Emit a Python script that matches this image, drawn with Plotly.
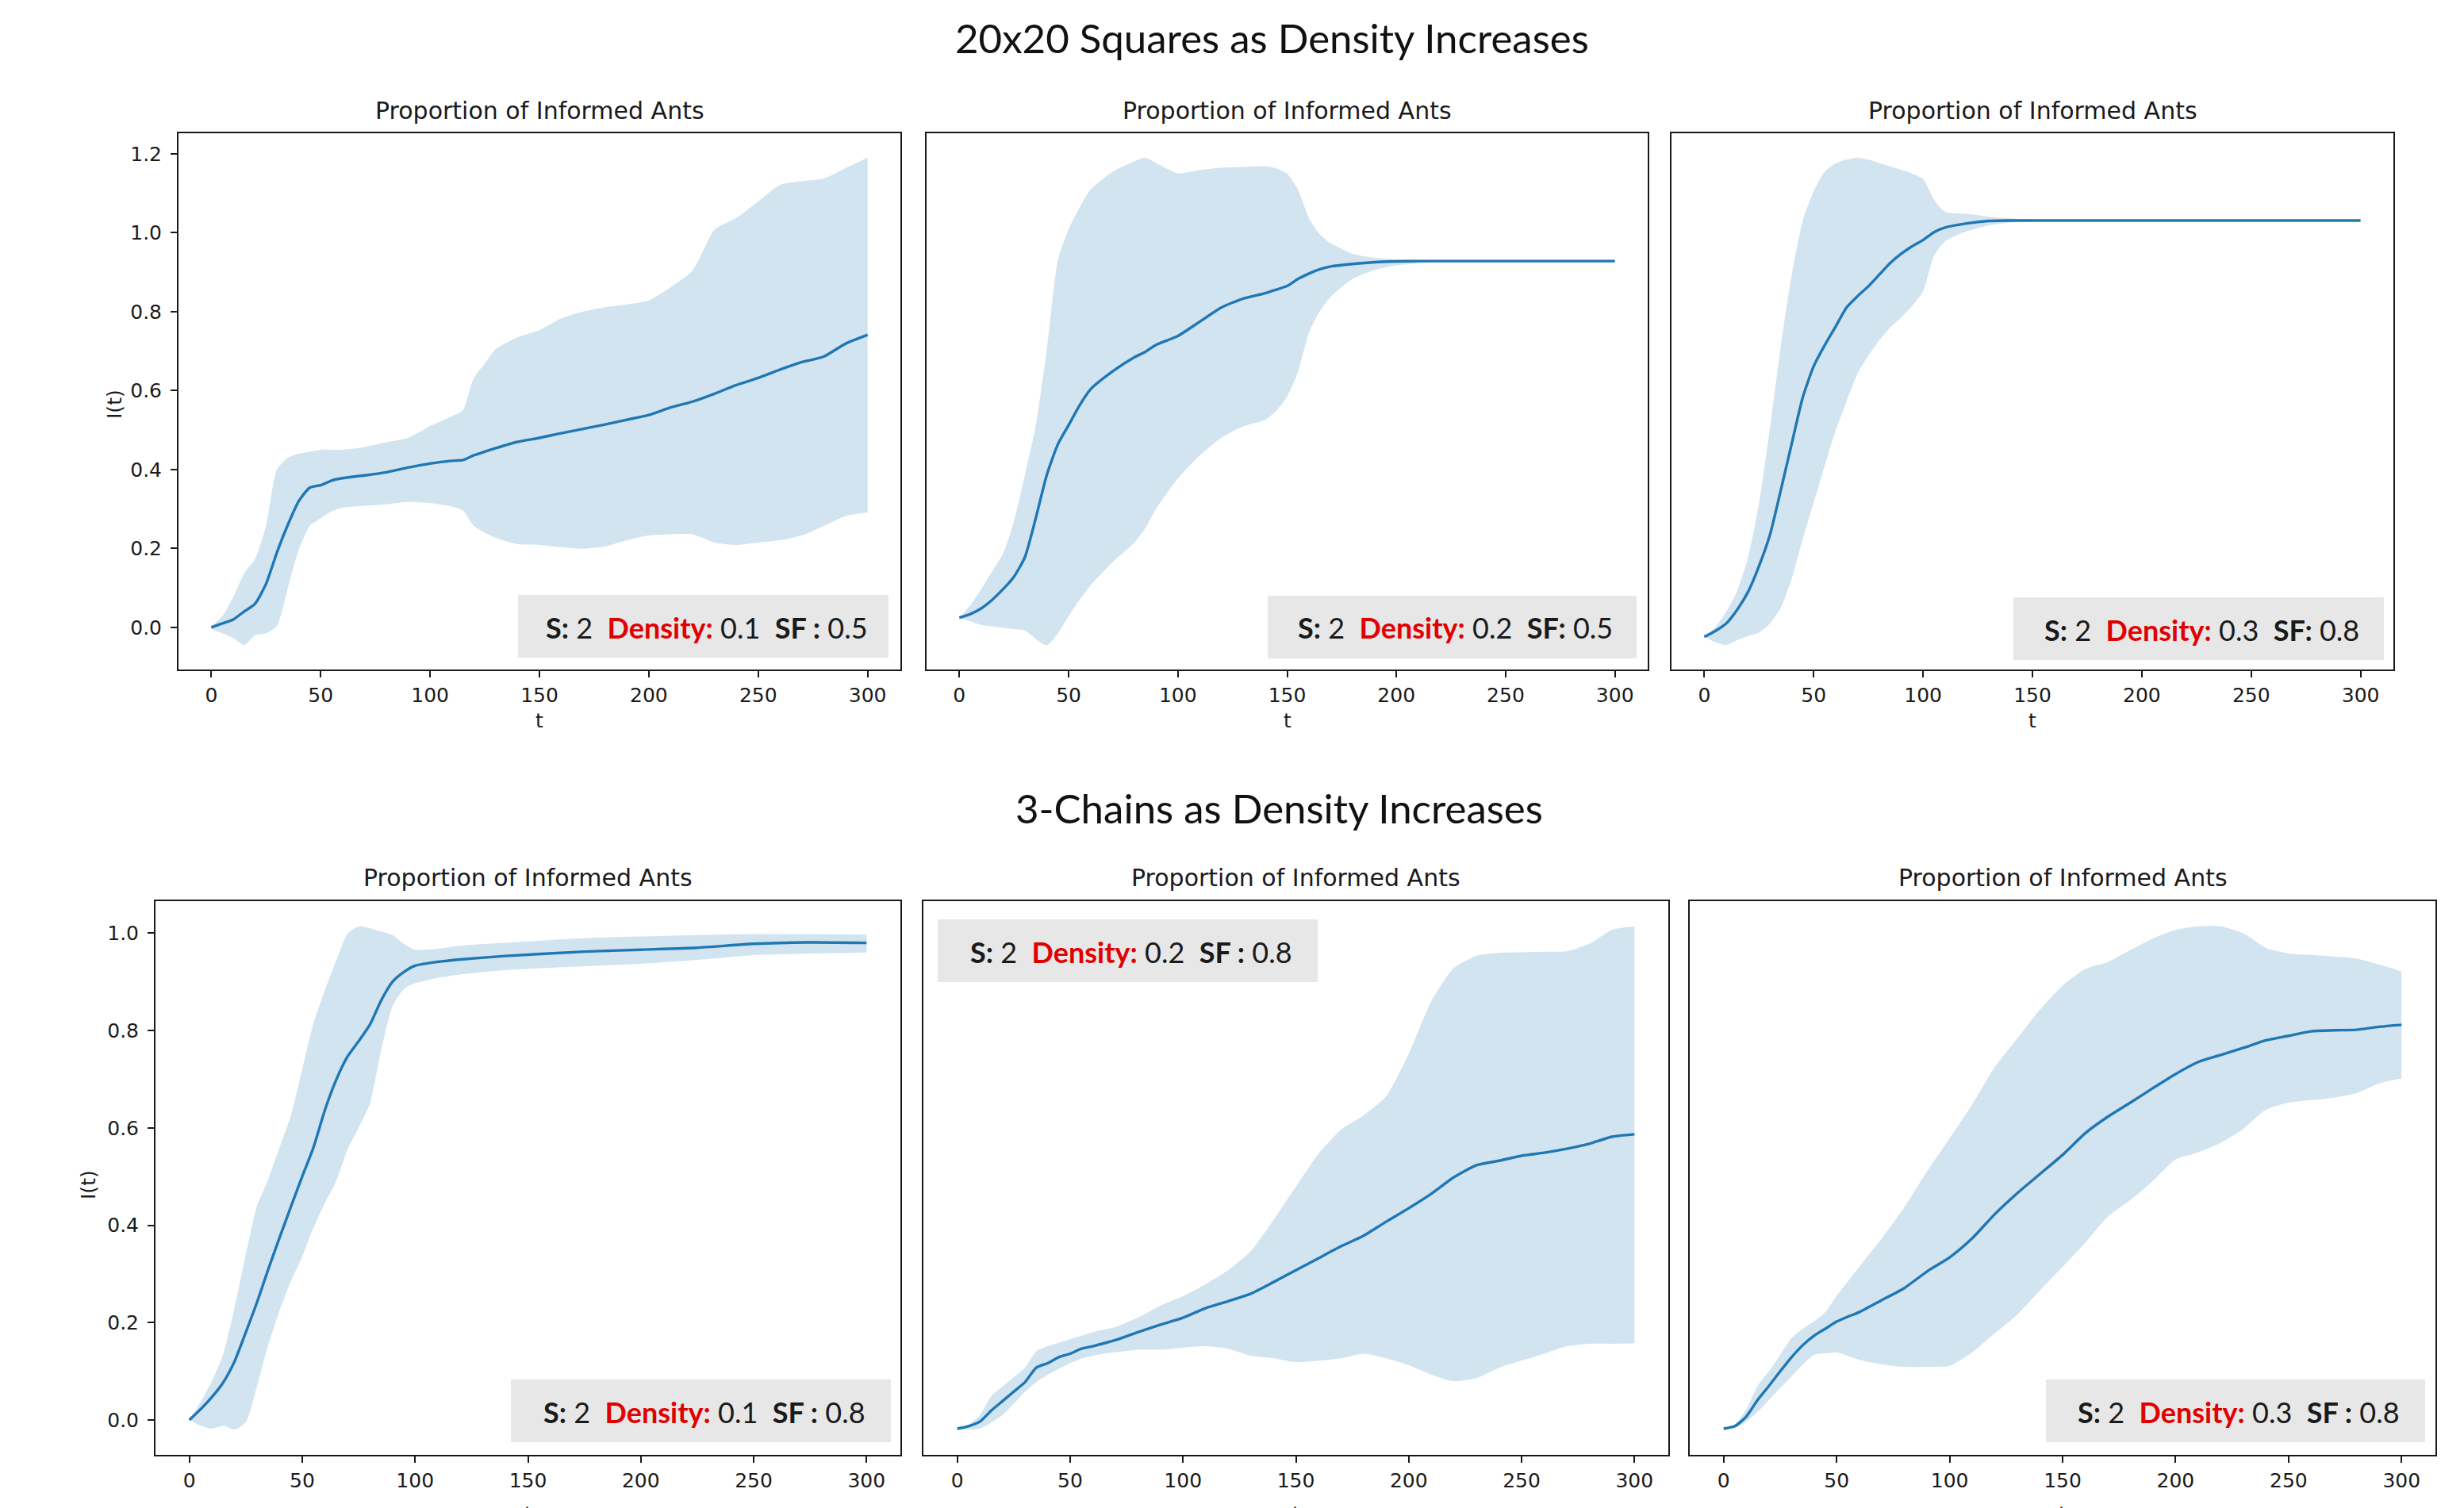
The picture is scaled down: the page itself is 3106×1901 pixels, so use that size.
import plotly.graph_objects as go

W, H = 3106, 1901

# ---------------- data ----------------
# Panel 1: 20x20 squares, density 0.1, SF 0.5
T1 = [0, 5, 10, 15, 20, 25, 30, 35, 40, 45, 50, 55, 60, 70, 80, 90, 100, 110, 115, 120, 125, 130,
      140, 150, 160, 170, 180, 190, 200, 210, 220, 230, 240, 250, 260, 270, 280, 290, 300]
MEAN1 = [0, .01, .02, .04, .06, .11, .19, .26, .32, .354, .36, .372, .378, .385, .393, .405, .415, .422,
         .424, .436, .445, .454, .47, .48, .492, .503, .514, .526, .538, .557, .572, .592, .614, .632,
         .653, .672, .686, .719, .741]
UP1 = [.003, .028, .076, .137, .173, .257, .40, .43, .44, .445, .45, .45, .45, .457, .469, .48, .51, .535,
       .55, .632, .668, .705, .735, .753, .783, .80, .811, .818, .828, .862, .904, 1.007, 1.037, 1.079,
       1.121, 1.13, 1.137, 1.164, 1.19]
LO1 = [-.004, -.015, -.027, -.045, -.02, -.015, .004, .10, .197, .257, .276, .294, .303, .308, .312, .318,
       .315, .306, .296, .257, .24, .227, .211, .209, .203, .199, .205, .221, .233, .236, .236, .215, .209,
       .215, .221, .233, .257, .282, .291]

# Panel 2: 20x20 squares, density 0.2, SF 0.5
T2 = [0, 5, 10, 15, 20, 25, 30, 35, 40, 45, 50, 55, 60, 70, 80, 85, 90, 100, 110, 120, 130, 140, 145,
      150, 155, 160, 165, 170, 180, 190, 200, 210, 220, 230, 300]
MEAN2 = [0, .01, .026, .05, .08, .115, .17, .28, .40, .485, .54, .595, .64, .69, .73, .745, .765, .79, .83,
         .87, .895, .91, .92, .93, .95, .965, .977, .985, .992, .997, .999, 1, 1, 1, 1]
UP2 = [0, .035, .08, .13, .18, .27, .40, .54, .75, 1.0, 1.09, 1.15, 1.20, 1.25, 1.28, 1.29, 1.275, 1.246,
       1.255, 1.262, 1.264, 1.266, 1.26, 1.245, 1.20, 1.12, 1.075, 1.05, 1.02, 1.009, 1.005, 1.001, 1, 1, 1]
LO2 = [0, -.01, -.02, -.024, -.028, -.032, -.036, -.06, -.077, -.045, .005, .05, .09, .155, .21, .25, .305,
       .39, .455, .505, .537, .555, .58, .62, .69, .80, .86, .90, .95, .975, .988, .993, .999, 1, 1]

# Panel 3: 20x20 squares, density 0.3, SF 0.8
T3 = [0, 5, 10, 15, 20, 25, 30, 35, 40, 45, 50, 55, 60, 65, 70, 75, 80, 85, 90, 95, 100, 105, 110, 120,
      130, 140, 150, 160, 300]
MEAN3 = [0, .014, .032, .065, .108, .17, .245, .353, .465, .575, .65, .70, .745, .791, .818, .842, .87,
         .898, .92, .938, .953, .972, .983, .993, .999, 1, 1, 1, 1]
UP3 = [0, .023, .06, .11, .19, .32, .50, .70, .87, 1.0, 1.07, 1.117, 1.137, 1.146, 1.151, 1.146, 1.138,
       1.13, 1.122, 1.113, 1.10, 1.05, 1.021, 1.016, 1.009, 1.005, 1.002, 1.0, 1.0]
LO3 = [0, -.013, -.02, -.008, .002, .01, .032, .07, .14, .235, .322, .41, .495, .565, .632, .675, .712,
       .743, .767, .795, .83, .915, .95, .974, .988, .995, .998, 1, 1]

# Panel 4: 3-chains, density 0.1, SF 0.8
T4 = [0, 5, 10, 15, 20, 25, 30, 35, 40, 45, 50, 55, 60, 65, 70, 75, 80, 85, 90, 95, 100, 110, 120, 140,
      175, 200, 225, 250, 275, 300]
MEAN4 = [0, .022, .047, .077, .12, .18, .242, .31, .375, .438, .50, .56, .636, .698, .746, .778, .812,
         .862, .90, .92, .933, .941, .946, .953, .962, .966, .970, .978, .981, .980]
UP4 = [0, .037, .08, .135, .23, .34, .44, .495, .56, .625, .72, .815, .882, .943, .998, 1.014, 1.01,
       1.003, .996, .978, .966, .968, .974, .98, .99, .993, .996, .998, .998, .997]
LO4 = [0, -.012, -.018, -.012, -.02, -.005, .07, .155, .225, .285, .335, .395, .445, .49, .555, .60, .65,
       .76, .85, .885, .897, .908, .915, .924, .932, .937, .945, .955, .958, .96]

# Panel 5: 3-chains, density 0.2, SF 0.8
T5 = [0, 5, 10, 15, 20, 25, 30, 35, 40, 45, 50, 55, 60, 70, 80, 90, 100, 110, 120, 130, 140, 150, 160,
      170, 180, 190, 200, 210, 220, 230, 240, 250, 260, 270, 280, 290, 300]
MEAN5 = [0, .005, .014, .036, .055, .074, .093, .122, .131, .143, .15, .16, .165, .177, .193, .208, .222,
         .241, .255, .27, .293, .317, .341, .365, .386, .414, .441, .47, .503, .527, .536, .546, .552, .56,
         .57, .584, .589]
UP5 = [0, .008, .027, .065, .084, .103, .122, .155, .165, .172, .179, .186, .193, .203, .222, .246, .265,
       .289, .317, .355, .417, .484, .55, .598, .627, .665, .75, .855, .922, .946, .952, .953, .954, .955,
       .97, .998, 1.005]
LO5 = [-.002, -.002, 0, .012, .027, .05, .074, .093, .108, .12, .131, .14, .146, .153, .158, .158, .162,
       .165, .16, .146, .141, .133, .136, .141, .15, .141, .127, .108, .095, .101, .122, .136, .15, .165,
       .17, .17, .171]

# Panel 6: 3-chains, density 0.3, SF 0.8
T6 = T5
MEAN6 = [0, .005, .024, .057, .085, .114, .142, .166, .185, .199, .213, .223, .232, .256, .28, .313, .341,
         .379, .427, .469, .507, .545, .588, .621, .649, .678, .706, .73, .744, .758, .773, .782, .791,
         .793, .794, .80, .804]
UP6 = [0, .009, .038, .085, .114, .147, .18, .199, .213, .232, .265, .293, .322, .379, .441, .512, .578,
       .645, .72, .777, .834, .882, .915, .929, .953, .976, .993, 1.0, 1.0, .986, .957, .946, .943, .94,
       .936, .924, .91]
LO6 = [-.002, .002, .014, .033, .057, .081, .104, .128, .147, .15, .152, .145, .137, .128, .123, .123,
       .125, .152, .19, .227, .275, .322, .37, .422, .455, .493, .536, .55, .569, .597, .635, .649, .654,
       .659, .668, .687, .697]

DENSITY = ["0.1", "0.2", "0.3", "0.1", "0.2", "0.3"]
SF = ["0.5", "0.5", "0.8", "0.8", "0.8", "0.8"]
SF_SEP = [" :", ":", ":", " :", " :", " :"]
X_TICKS = [0, 50, 100, 150, 200, 250, 300]
Y_TICKS_1 = [0.0, 0.2, 0.4, 0.6, 0.8, 1.0, 1.2]
Y_TICKS_4 = [0.0, 0.2, 0.4, 0.6, 0.8, 1.0]

PANELS = [(T1, MEAN1, UP1, LO1), (T2, MEAN2, UP2, LO2), (T3, MEAN3, UP3, LO3),
          (T4, MEAN4, UP4, LO4), (T5, MEAN5, UP5, LO5), (T6, MEAN6, UP6, LO6)]

# ---------------- layout geometry (pixels) ----------------
BOXES = [((225, 1135), (168, 844)), ((1168, 2077), (168, 844)), ((2107, 3017), (168, 844)),
         ((196, 1135), (1136, 1834)), ((1164, 2103), (1136, 1834)), ((2130, 3070), (1136, 1834))]
# label box positions (x0, x1, y0, y1) in pixels
LBOX = [(653, 1120, 750, 829), (1598, 2063, 751, 830), (2538, 3005, 753, 832),
        (644, 1123, 1739, 1818), (1182, 1661, 1159, 1238), (2579, 3057, 1739, 1818)]


def px(x):
    return x / W


def py(y):
    return 1 - y / H


LINE_C = "#1f77b4"
FILL_C = "rgba(31,119,180,0.2)"
TICK_FONT = dict(family="DejaVu Sans", size=25, color="#1a1a1a")

fig = go.Figure()
layout = dict(width=W, height=H, margin=dict(l=0, r=0, t=0, b=0), autosize=False,
              paper_bgcolor="white", plot_bgcolor="white", showlegend=False)
annotations = []
shapes = []

for i, (t, m, u, l) in enumerate(PANELS):
    n = "" if i == 0 else str(i + 1)
    xa, ya = "x" + n, "y" + n
    fig.add_trace(go.Scatter(x=t, y=l, xaxis=xa, yaxis=ya, mode="lines",
                             line=dict(width=0, color=FILL_C, shape="spline", smoothing=0.6),
                             hoverinfo="skip"))
    fig.add_trace(go.Scatter(x=t, y=u, xaxis=xa, yaxis=ya, mode="lines", fill="tonexty",
                             fillcolor=FILL_C,
                             line=dict(width=0, color=FILL_C, shape="spline", smoothing=0.6),
                             hoverinfo="skip"))
    fig.add_trace(go.Scatter(x=t, y=m, xaxis=xa, yaxis=ya, mode="lines",
                             line=dict(color=LINE_C, width=3.4, shape="spline", smoothing=0.6)))

    lo = min(min(l), min(m))
    hi = max(max(u), max(m))
    pad = 0.05 * (hi - lo)
    yr = [lo - pad, hi + pad]

    (x0, x1), (y0, y1) = BOXES[i]
    layout["xaxis" + n] = dict(domain=[px(x0), px(x1)], range=[-15, 315], anchor=ya,
                               tickmode="array", tickvals=X_TICKS,
                               ticks="outside", ticklen=8, tickwidth=2, tickcolor="#1a1a1a",
                               showline=True, linecolor="#1a1a1a", linewidth=2, mirror=True,
                               showgrid=False, zeroline=False, tickfont=TICK_FONT,
                               ticklabelstandoff=1)
    yaxis = dict(domain=[py(y1), py(y0)], range=yr, anchor=xa,
                 showline=True, linecolor="#1a1a1a", linewidth=2, mirror=True,
                 showgrid=False, zeroline=False)
    if i in (0, 3):
        yt = Y_TICKS_1 if i == 0 else Y_TICKS_4
        yaxis.update(tickmode="array", tickvals=yt, ticktext=[f"{v:.1f}" for v in yt],
                     ticks="outside", ticklen=8, tickwidth=2, tickcolor="#1a1a1a",
                     tickfont=TICK_FONT, ticklabelstandoff=6)
    else:
        yaxis.update(showticklabels=False, ticks="")
    layout["yaxis" + n] = yaxis

    # subplot title
    ty = 139 if i < 3 else 1106
    annotations.append(dict(text="Proportion of Informed Ants", x=px((x0 + x1) / 2), y=py(ty),
                            xref="paper", yref="paper", showarrow=False, xanchor="center",
                            yanchor="middle", font=dict(family="DejaVu Sans", size=30, color="#1a1a1a")))
    # x label
    xl_y = 908 if i < 3 else 1908
    annotations.append(dict(text="t", x=px((x0 + x1) / 2), y=py(xl_y), xref="paper", yref="paper",
                            showarrow=False, xanchor="center", yanchor="middle", font=TICK_FONT))

    # info box
    bx0, bx1, by0, by1 = LBOX[i]
    shapes.append(dict(type="rect", xref="paper", yref="paper", x0=px(bx0), x1=px(bx1),
                       y0=py(by1), y1=py(by0), fillcolor="#e7e7e7", line=dict(width=0), layer="above"))
    txt = ("<b>S:</b> 2&nbsp;&nbsp;<b><span style='color:#e00000'>Density:</span></b> "
           f"{DENSITY[i]}&nbsp;&nbsp;<b>SF{SF_SEP[i]}</b> {SF[i]}")
    annotations.append(dict(text=txt, x=px((bx0 + bx1) / 2 + 4), y=py((by0 + by1) / 2 + 1),
                            xref="paper", yref="paper", showarrow=False, xanchor="center",
                            yanchor="middle", font=dict(family="Lato", size=36, color="#1a1a1a")))

# y labels
annotations.append(dict(text="I(t)", x=px(144), y=py(510), xref="paper", yref="paper", showarrow=False,
                        textangle=-90, xanchor="center", yanchor="middle", font=TICK_FONT))
annotations.append(dict(text="I(t)", x=px(111), y=py(1494), xref="paper", yref="paper", showarrow=False,
                        textangle=-90, xanchor="center", yanchor="middle", font=TICK_FONT))

# main titles
annotations.append(dict(text="20x20 Squares as Density Increases", x=px(1604), y=py(47), xref="paper",
                        yref="paper", showarrow=False, xanchor="center", yanchor="middle",
                        font=dict(family="Lato", size=51, color="#111111")))
annotations.append(dict(text="3-Chains as Density Increases", x=px(1612), y=py(1018), xref="paper",
                        yref="paper", showarrow=False, xanchor="center", yanchor="middle",
                        font=dict(family="Lato", size=51, color="#111111")))

layout["annotations"] = annotations
layout["shapes"] = shapes
fig.update_layout(**layout)
fig.write_html("out.html", config={"displayModeBar": False},
               post_script="document.body.style.margin='0';document.body.style.padding='0';")
